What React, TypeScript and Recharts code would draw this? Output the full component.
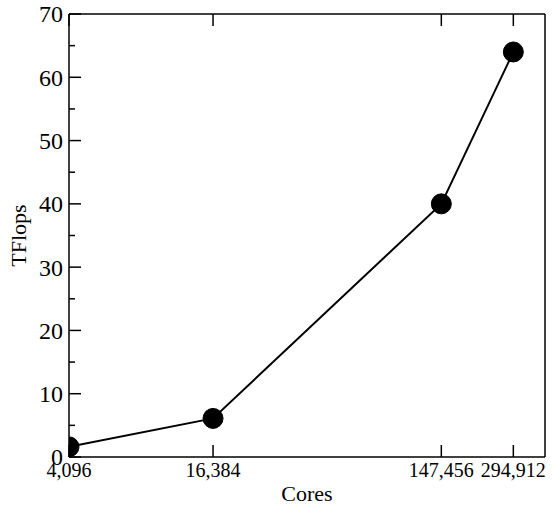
import React from 'react';
import { LineChart, Line, XAxis, YAxis, Label } from 'recharts';

const cores = [4096, 16384, 147456, 294912];
const tflops = [1.6, 6.1, 40, 64];
const xTicks = [4096, 16384, 147456, 294912];
const xTickLabels = ['4,096', '16,384', '147,456', '294,912'];
const yMajor = [0, 10, 20, 30, 40, 50, 60, 70];
const yMinor = [5, 15, 25, 35, 45, 55, 65];

const data = cores.map((c, i) => ({ cores: c, tflops: tflops[i] }));
const yTicks = [...yMajor, ...yMinor].sort((a, b) => a - b);

const FONT = '"Liberation Serif", "Times New Roman", serif';
const FS_X = 20;
const FS_Y = 24;
const FS_LABEL = 22;
const MAJOR = 12;
const MINOR = 6;

const LeftTick = (props: any) => {
  const { x, y, payload } = props;
  const major = yMajor.includes(payload.value);
  return (
    <g>
      <line x1={x} x2={x + (major ? MAJOR : MINOR)} y1={y} y2={y} stroke="#000" strokeWidth={1.5} />
      {major && (
        <text x={x - 6} y={y} dy="0.35em" textAnchor="end" fontFamily={FONT} fontSize={FS_Y} fill="#000">
          {payload.value}
        </text>
      )}
    </g>
  );
};

const RightTick = (props: any) => {
  const { x, y, payload } = props;
  const major = yMajor.includes(payload.value);
  return <line x1={x} x2={x - (major ? MAJOR : MINOR)} y1={y} y2={y} stroke="#000" strokeWidth={1.5} />;
};

const BottomTick = (props: any) => {
  const { x, y, payload } = props;
  const idx = xTicks.indexOf(payload.value);
  return (
    <g>
      <line x1={x} x2={x} y1={y} y2={y - MAJOR} stroke="#000" strokeWidth={1.5} />
      <text x={x} y={y} dy={20} textAnchor="middle" fontFamily={FONT} fontSize={FS_X} fill="#000">
        {xTickLabels[idx]}
      </text>
    </g>
  );
};

const TopTick = (props: any) => {
  const { x, y } = props;
  return <line x1={x} x2={x} y1={y} y2={y + MAJOR} stroke="#000" strokeWidth={1.5} />;
};

export default function App() {
  return (
    <div style={{ position: 'absolute', left: 0, top: 0, background: '#fff' }}>
      <LineChart width={552} height={506} data={data} margin={{ top: 13, right: 6, bottom: 0, left: 0 }}>
        <XAxis
          xAxisId="bottom"
          dataKey="cores"
          type="number"
          scale="log"
          domain={[4096, 400000]}
          allowDataOverflow
          ticks={xTicks}
          interval={0}
          tickSize={0}
          tickMargin={0}
          tickLine={false}
          height={49}
          axisLine={{ stroke: '#000', strokeWidth: 1.5 }}
          tick={<BottomTick />}
        >
          <Label value="Cores" position="insideBottom" offset={5} fontFamily={FONT} fontSize={FS_LABEL} fill="#000" />
        </XAxis>
        <XAxis
          xAxisId="top"
          orientation="top"
          dataKey="cores"
          type="number"
          scale="log"
          domain={[4096, 400000]}
          allowDataOverflow
          ticks={xTicks}
          interval={0}
          tickSize={0}
          tickMargin={0}
          tickLine={false}
          height={1}
          axisLine={{ stroke: '#000', strokeWidth: 1.5 }}
          tick={<TopTick />}
        />
        <YAxis
          yAxisId="left"
          type="number"
          domain={[0, 70]}
          ticks={yTicks}
          interval={0}
          width={69}
          tickSize={0}
          tickMargin={0}
          tickLine={false}
          axisLine={{ stroke: '#000', strokeWidth: 1.5 }}
          tick={<LeftTick />}
        >
          <Label value="TFlops" angle={-90} position="insideLeft" offset={18} fontFamily={FONT} fontSize={FS_LABEL} fill="#000" style={{ textAnchor: 'middle' }} />
        </YAxis>
        <YAxis
          yAxisId="right"
          orientation="right"
          type="number"
          domain={[0, 70]}
          ticks={yTicks}
          interval={0}
          width={1}
          tickSize={0}
          tickMargin={0}
          tickLine={false}
          axisLine={{ stroke: '#000', strokeWidth: 1.5 }}
          tick={<RightTick />}
        />
        <Line
          xAxisId="bottom"
          yAxisId="left"
          dataKey="tflops"
          stroke="#000"
          strokeWidth={2}
          dot={{ r: 10, fill: '#000', stroke: '#000', strokeWidth: 1 }}
          isAnimationActive={false}
        />
      </LineChart>
    </div>
  );
}
